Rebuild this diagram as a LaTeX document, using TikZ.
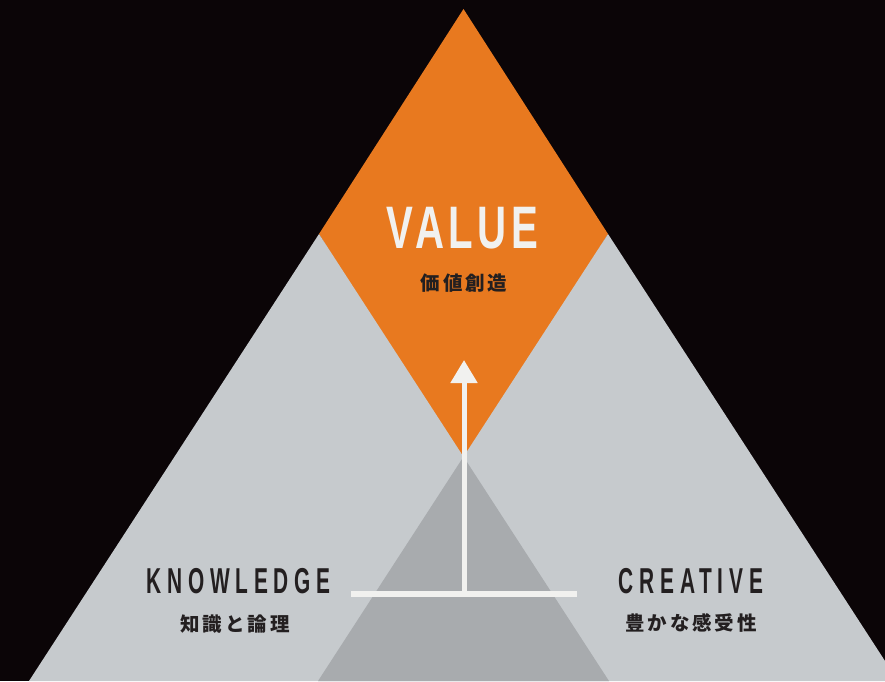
\documentclass[tikz,border=0pt]{standalone}
\usepackage{fontspec}
\usetikzlibrary{arrows.meta}
\newfontfamily\valuefont{Liberation Sans}[FakeStretch=0.67,LetterSpace=7.5]
\newfontfamily\labelfont{Liberation Sans}[FakeStretch=0.58,LetterSpace=16]
\newfontfamily\jpfont{Noto Sans CJK JP}[LetterSpace=15]
\definecolor{bgdark}{HTML}{0B0507}
\definecolor{lightgrey}{HTML}{C6CACD}
\definecolor{midgrey}{HTML}{A8ABAE}
\definecolor{valueorange}{HTML}{E8791F}
\definecolor{offwhite}{HTML}{F1F1EF}
\definecolor{ink}{HTML}{231F20}
\tikzset{
  txt/.style={inner sep=0pt,outer sep=0pt,anchor=base},
  title/.style={txt,font=\labelfont\bfseries\fontsize{36}{36}\selectfont,text=ink},
  subtitle/.style={txt,font=\jpfont\bfseries\fontsize{19.5}{19.5}\selectfont,text=ink},
  connector/.style={draw=offwhite,line width=#1},
}
\begin{document}
\begin{tikzpicture}[x=1pt,y=-1pt]
  \useasboundingbox (0,0) rectangle (885,681);
  \fill[bgdark] (0,0) rectangle (885,681);
  % value diamond (its lower tip runs on under the pyramids)
  \fill[valueorange] (463.5,9) -- (608,234) -- (463.5,470) -- (319,234) -- cycle;
  % two overlapping pyramids
  \fill[lightgrey] (319,234) -- (29,681) -- (609,681) -- cycle;
  \fill[lightgrey] (608,234) -- (318,681) -- (898,681) -- cycle;
  % their overlap
  \fill[midgrey] (463.5,456.7) -- (318,681) -- (609,681) -- cycle;

  % labels
  \node[txt,font=\valuefont\bfseries\fontsize{60}{60}\selectfont,text=offwhite] (value) at (462.5,248) {VALUE};
  \node[subtitle,text=ink] (valueJP) at (464,290.6) {価値創造};
  \node[title] (know) at (238.5,593) {KNOWLEDGE};
  \node[subtitle] (knowJP) at (235,631.6) {知識と論理};
  \node[title] (creat) at (691,593) {CREATIVE};
  \node[subtitle] (creatJP) at (691,630.6) {豊かな感受性};

  % knowledge + creativity lead up to value
  \coordinate (barL) at (351,594);
  \coordinate (barR) at (577,594);
  \coordinate (stemBase) at (464,594);
  \coordinate (stemTip) at (464,360);
  \draw[connector=6pt] (barL) -- (barR);
  \draw[connector=5pt,-{Triangle[width=26pt,length=23pt]},offwhite] (stemBase) -- (stemTip);
\end{tikzpicture}
\end{document}
